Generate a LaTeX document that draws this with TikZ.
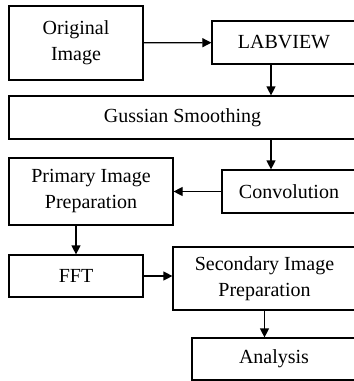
\documentclass[tikz,border=0pt]{standalone}
\usepackage{fontspec}
\setmainfont{Liberation Serif}
\usetikzlibrary{arrows.meta}

\begin{document}
\begin{tikzpicture}[x=1pt, y=-1pt, line width=1.2pt,
    block/.style={draw, rectangle, align=center, inner sep=0pt,
        font=\fontsize{20}{26}\selectfont},
    >={Triangle[length=9pt, width=9pt]}]
    \clip (0,0) rectangle (354,381);
    \useasboundingbox (0,0) rectangle (354,381);
    \node[block, minimum width=134pt, minimum height=74pt] (orig) at (76,43) {Original\\Image};
    \node[block, minimum width=144pt, minimum height=43pt] (lab) at (284,42.5) {LABVIEW};
    \node[block, minimum width=347pt, minimum height=43pt] (gauss) at (182.5,117.5) {Gussian Smoothing};
    \node[block, minimum width=134pt, minimum height=43pt] (conv) at (289,191.5) {Convolution};
    \node[block, minimum width=164pt, minimum height=67pt] (prim) at (91,191.5) {Primary Image\\Preparation};
    \node[block, minimum width=134pt, minimum height=42pt] (fft) at (76,276) {FFT};
    \node[block, minimum width=183pt, minimum height=63pt] (sec) at (264.5,278.5) {Secondary Image\\Preparation};
    \node[block, minimum width=164pt, minimum height=42pt] (ana) at (274,359) {Analysis};
    \coordinate (down) at (271,0);

    \draw[->] (orig) -- (lab);
    \draw[->] (lab.south -| down) -- (gauss.north -| down);
    \draw[->] (gauss.south -| down) -- (conv.north -| down);
    \draw[->] (conv.west) -- (conv.west -| prim.east);
    \draw[->] (prim.south -| fft.north) -- (fft.north);
    \draw[->] (fft.east) -- (fft.east -| sec.west);
    \draw[->] (sec.south) -- (sec.south |- ana.north);
\end{tikzpicture}
\end{document}
